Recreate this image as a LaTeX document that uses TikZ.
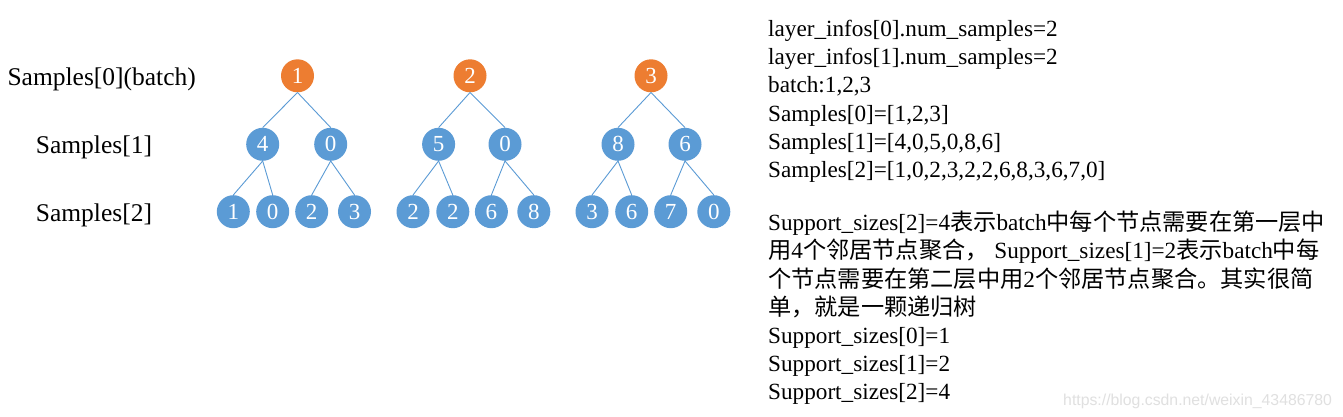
\documentclass[tikz,border=0pt]{standalone}
\usepackage{fontspec}
\setmainfont{Liberation Serif}
\newfontfamily\cjk{Noto Sans CJK SC}
\newfontfamily\wmfont{Liberation Sans}
\definecolor{orng}{HTML}{ED7D31}
\definecolor{blu}{HTML}{5B9BD5}
\begin{document}
\begin{tikzpicture}[x=1pt,y=-1pt,
  rootnode/.style={circle,fill=orng,text=white,minimum size=33pt,inner sep=0pt,font=\fontsize{23}{23}\selectfont},
  kidnode/.style={rootnode,fill=blu},
  edge/.style={draw=blu,line width=0.9pt},
  lvl/.style={anchor=base west,inner sep=0pt,font=\fontsize{25.5}{30}\selectfont},
  info/.style={anchor=base west,inner sep=0pt,font=\fontsize{23.2}{28}\selectfont},
  wm/.style={anchor=base west,inner sep=0pt,text=black!12,font=\wmfont\fontsize{15.8}{16}\selectfont}]
\useasboundingbox[fill=white] (0,0) rectangle (1343,417);

% level labels
\node[lvl] (l0) at (7.3,85.7) {Samples[0](batch)};
\node[lvl] (l1) at (35.7,153.3) {Samples[1]};
\node[lvl] (l2) at (35.7,221.7) {Samples[2]};

% tree 1
\node[rootnode] (r1) at (297.5,75.8) {1};
\node[kidnode] (a1) at (262.7,144.3) {4};
\node[kidnode] (b1) at (330.7,144.3) {0};
\node[kidnode] (a1x) at (233.3,211.7) {1};
\node[kidnode] (a1y) at (272.7,211.7) {0};
\node[kidnode] (b1x) at (311.7,211.7) {2};
\node[kidnode] (b1y) at (354.5,211.7) {3};
% tree 2
\node[rootnode] (r2) at (470,75.8) {2};
\node[kidnode] (a2) at (438.6,144.3) {5};
\node[kidnode] (b2) at (505,144.3) {0};
\node[kidnode] (a2x) at (413,211.7) {2};
\node[kidnode] (a2y) at (452.8,211.7) {2};
\node[kidnode] (b2x) at (491.4,211.7) {6};
\node[kidnode] (b2y) at (533.8,211.7) {8};
% tree 3
\node[rootnode] (r3) at (651,75.8) {3};
\node[kidnode] (a3) at (618,144.3) {8};
\node[kidnode] (b3) at (685,144.3) {6};
\node[kidnode] (a3x) at (592,211.7) {3};
\node[kidnode] (a3y) at (631.7,211.7) {6};
\node[kidnode] (b3x) at (670.7,211.7) {7};
\node[kidnode] (b3y) at (713.8,211.7) {0};

\foreach \t in {1,2,3}{
  \draw[edge] (r\t.south) -- (a\t.north);
  \draw[edge] (r\t.south) -- (b\t.north);
  \draw[edge] (a\t.south) -- (a\t x.north);
  \draw[edge] (a\t.south) -- (a\t y.north);
  \draw[edge] (b\t.south) -- (b\t x.north);
  \draw[edge] (b\t.south) -- (b\t y.north);
}

% right text
\node[info] (t1) at (768,36.5) {layer\_infos[0].num\_samples=2};
\node[info] (t2) at (768,64.7) {layer\_infos[1].num\_samples=2};
\node[info] (t3) at (768,92.9) {batch:1,2,3};
\node[info] (t4) at (768,121.1) {Samples[0]=[1,2,3]};
\node[info] (t5) at (768,149.3) {Samples[1]=[4,0,5,0,8,6]};
\node[info] (t6) at (768,177.5) {Samples[2]=[1,0,2,3,2,2,6,8,3,6,7,0]};
\node[info] (t7) at (768,230.7) {Support\_sizes[2]=4{\cjk 表示}batch{\cjk 中每个节点需要在第一层中}};
\node[info] (t8) at (768,258.9) {{\cjk 用}4{\cjk 个邻居节点聚合，} Support\_sizes[1]=2{\cjk 表示}batch{\cjk 中每}};
\node[info] (t9) at (768,287.1) {{\cjk 个节点需要在第二层中用}2{\cjk 个邻居节点聚合。其实很简}};
\node[info] (t10) at (768,315.3) {{\cjk 单，就是一颗递归树}};
\node[info] (t11) at (768,343.5) {Support\_sizes[0]=1};
\node[info] (t12) at (768,371.7) {Support\_sizes[1]=2};
\node[info] (t13) at (768,399.9) {Support\_sizes[2]=4};

\node[wm] (wm) at (1063,405) {https://blog.csdn.net/weixin\_43486780};
\end{tikzpicture}
\end{document}
